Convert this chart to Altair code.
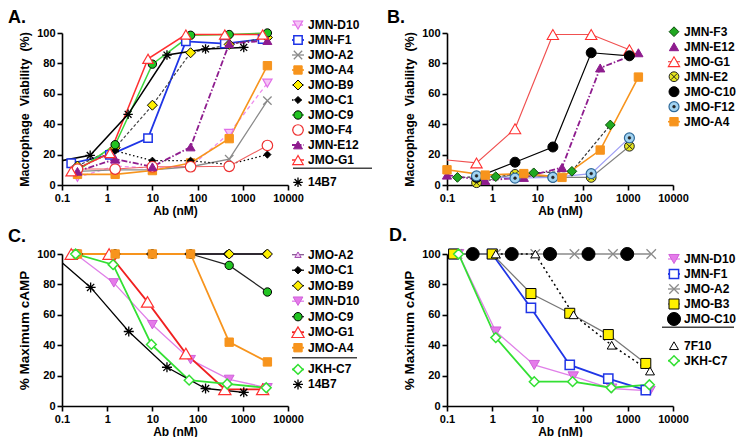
import altair as alt
import pandas as pd

FONT = "Liberation Sans"
XTICKS = [0.1, 1, 10, 100, 1000, 10000]
YTICKS = [0, 20, 40, 60, 80, 100]
PW, PH = 226, 152

# ---------------- Panel A : macrophage viability ----------------
A_XS = [0.22, 1.5, 10, 70, 500, 3500]
A_XF = [0.16, 1.15, 8, 55, 400, 2750]
A_X14 = [0.06, 0.42, 2.9, 21, 150, 1050]
A_X = {"JMN-D10": A_XS, "JMN-F1": A_XF, "JMO-A2": A_XS, "JMO-A4": A_XS,
       "JMO-B9": A_XS, "JMO-C1": A_XS, "JMO-C9": A_XS, "JMO-F4": A_XS,
       "JMN-E12": A_XS, "JMO-G1": A_XF, "14B7": A_X14}
A_Y = {
    "JMN-D10": [5, 12.5, 11, 12, 34, 67],
    "JMN-F1": [14.3, 19.8, 30.8, 94.5, 93, 96],
    "JMO-A2": [9, 10, 10, 12, 17, 55.5],
    "JMO-A4": [7, 7, 9.5, 14.5, 30.5, 78.5],
    "JMO-B9": [12.5, 24.5, 52.5, 87, 92.5, 97],
    "JMO-C1": [11, 22.5, 16, 16, 13.5, 20],
    "JMO-C9": [9.5, 26.5, 79.5, 98.5, 99, 100],
    "JMO-F4": [10.5, 10.5, 12, 12, 12.3, 26],
    "JMN-E12": [9, 17, 12, 25, 93, 95],
    "JMO-G1": [9, 21, 83, 99, 99, 99],
    "14B7": [14.8, 19.5, 46.5, 85.5, 89.5, 90.5],
}

# ---------------- Panel B : macrophage viability ----------------
B_X1 = [0.1, 0.7, 5, 35, 245, 1715]
B_X2 = [0.45, 3.2, 22, 155, 1085]
B_XG = [0.065, 0.45, 3.2, 22, 155, 1085]
B_XF3 = [0.17, 1.2, 8.3, 58, 410]
B_X = {"JMN-F3": B_XF3, "JMN-E12": B_X1, "JMO-G1": B_XG, "JMN-E2": B_X2,
       "JMO-C10": B_X2, "JMO-F12": B_X2, "JMO-A4": B_X1}
B_Y = {
    "JMN-F3": [5, 5.5, 8, 9, 39.5],
    "JMN-E12": [6.5, 3, 5, 11.5, 77, 87],
    "JMO-G1": [17, 14.5, 37, 99, 99, 89],
    "JMN-E2": [1.5, 7, 5, 5, 25.5],
    "JMO-C10": [5, 15, 25, 87, 85],
    "JMO-F12": [6, 4.5, 5, 7.5, 31],
    "JMO-A4": [10, 6.5, 7.5, 5, 23, 71],
}

# ---------------- Panel C : % maximum cAMP ----------------
C_XS = [0.22, 1.5, 10, 70, 500, 3500]
C_XC1 = [0.19, 1.3, 9, 63, 450, 3200]
C_XG = [0.16, 1.1, 7.8, 55, 400, 2750]
C_XD = [0.2, 1.4, 10, 70, 500, 3500]
C_XK = [0.2, 1.35, 9.5, 65, 450, 3300]
C_X14 = [0.06, 0.43, 3, 21, 150, 1050]
C_X = {"JMO-A2": C_XS, "JMO-C1": C_XC1, "JMO-B9": C_XS, "JMN-D10": C_XD,
       "JMO-C9": C_XS, "JMO-G1": C_XG, "JMO-A4": C_XS, "JKH-C7": C_XK, "14B7": C_X14}
C_Y = {
    "JMO-A2": [100, 100, 100, 100, 100, 100],
    "JMO-C1": [100, 100, 100, 100, 100, 100],
    "JMO-B9": [100, 100, 100, 100, 100, 100],
    "JMN-D10": [100, 81, 53.5, 30.5, 17.5, 12],
    "JMO-C9": [100, 100, 100, 100, 92.5, 75],
    "JMO-G1": [100, 100, 68.5, 34.5, 11, 11],
    "JMO-A4": [100, 100, 100, 100, 42, 29],
    "JKH-C7": [100, 93, 40.5, 17, 14.5, 12],
    "14B7": [100, 78, 49, 25.5, 11.5, 9],
}

# ---------------- Panel D : % maximum cAMP ----------------
D_XD = [0.18, 1.2, 8.5, 62, 440, 3100]
D_XF = [0.14, 1.0, 7.2, 52, 370, 2500]
D_XA = [0.17, 1.2, 9, 66, 470, 3300]
D_XC = [0.37, 2.7, 19, 135, 970]
D_X7 = [1.2, 9, 63, 440, 3100]
D_XK = [0.18, 1.2, 8.5, 60, 430, 3000]
D_X = {"JMN-D10": D_XD, "JMN-F1": D_XF, "JMO-A2": D_XA, "JMO-B3": D_XF,
       "JMO-C10": D_XC, "7F10": D_X7, "JKH-C7": D_XK}
D_Y = {
    "JMN-D10": [100, 49, 27, 19.5, 11.5, 10],
    "JMN-F1": [100, 100, 64.5, 27, 18, 10.5],
    "JMO-A2": [100, 100, 100, 100, 100, 100],
    "JMO-B3": [100, 100, 74, 61, 47, 28],
    "JMO-C10": [100, 100, 100, 100, 100],
    "7F10": [100, 100, 60, 40, 23],
    "JKH-C7": [100, 45, 16, 16, 12, 14],
}

# legend rows (label, row index)
A_LEG = [("JMN-D10", 0), ("JMN-F1", 1), ("JMO-A2", 2), ("JMO-A4", 3), ("JMO-B9", 4),
         ("JMO-C1", 5), ("JMO-C9", 6), ("JMO-F4", 7), ("JMN-E12", 8), ("JMO-G1", 9),
         ("14B7", 10.49)]
B_LEG = [("JMN-F3", 0), ("JMN-E12", 1), ("JMO-G1", 2), ("JMN-E2", 3), ("JMO-C10", 4),
         ("JMO-F12", 5), ("JMO-A4", 6)]
C_LEG = [("JMO-A2", 0), ("JMO-C1", 1), ("JMO-B9", 2), ("JMN-D10", 3), ("JMO-C9", 4),
         ("JMO-G1", 5), ("JMO-A4", 6), ("JKH-C7", 7.4), ("14B7", 8.37)]
D_LEG = [("JMN-D10", 0), ("JMN-F1", 1), ("JMO-A2", 2), ("JMO-B3", 3), ("JMO-C10", 4),
         ("7F10", 5.78), ("JKH-C7", 6.78)]

# ---------------- styles ----------------
CROSS = "M-1,-1L1,1M-1,1L1,-1"
ASTER = "M-1,0L1,0M0,-1L0,1M-0.72,-0.72L0.72,0.72M-0.72,0.72L0.72,-0.72"
XIN = "M-0.62,-0.62L0.62,0.62M-0.62,0.62L0.62,-0.62"
T = "transparent"
ORANGE = "#F7941D"
RED = "#FF3030"
BLUE = "#1F35E6"
VIOLET = "#E070E8"
PURPLE = "#8E1C8E"
LGREEN = "#33E033"

S_A = {
    "JMN-D10": dict(shape="triangle-down", size=85, fill="#F6C4F6", stroke=VIOLET, sw=1.2, line="#EE8AEE", lw=1.3, dash=[4, 3]),
    "JMN-F1": dict(shape="square", size=70, fill="white", stroke=BLUE, sw=1.5, line=BLUE, lw=1.8),
    "JMO-A2": dict(shape=CROSS, size=70, fill=T, stroke="#8A8A8A", sw=1.3, line="#8A8A8A", lw=1.3),
    "JMO-A4": dict(shape="square", size=70, fill=ORANGE, stroke=ORANGE, sw=1, line=ORANGE, lw=1.6),
    "JMO-B9": dict(shape="diamond", size=100, fill="#FFF000", stroke="black", sw=1, line="#444444", lw=1.2, dash=[3, 2]),
    "JMO-C1": dict(shape="diamond", size=50, fill="black", stroke="black", sw=1, line="black", lw=1.3, dash=[1.5, 2.5]),
    "JMO-C9": dict(shape="circle", size=70, fill="#22C422", stroke="black", sw=1, line="#3BD63B", lw=1.5),
    "JMO-F4": dict(shape="circle", size=110, fill="white", stroke="#EE3030", sw=1.2, line="#F06060", lw=1.1),
    "JMN-E12": dict(shape="triangle-up", size=80, fill=PURPLE, stroke=PURPLE, sw=1, line=PURPLE, lw=1.8, dash=[6, 2, 1.5, 2]),
    "JMO-G1": dict(shape="triangle-up", size=110, fill="white", stroke=RED, sw=1.2, line=RED, lw=1.5),
    "14B7": dict(shape=ASTER, size=90, fill=T, stroke="black", sw=1.3, line="black", lw=1.5, legline=False),
}
S_B = {
    "JMN-F3": dict(shape="diamond", size=95, fill="#21A821", stroke="#0B4D0B", sw=1, line="#333333", lw=1.2, dash=[3, 2], legline=False),
    "JMN-E12": dict(shape="triangle-up", size=85, fill=PURPLE, stroke=PURPLE, sw=1, line=PURPLE, lw=1.8, dash=[6, 2, 1.5, 2], legline=False),
    "JMO-G1": dict(shape="triangle-up", size=130, fill="white", stroke=RED, sw=1.1, line="#F05050", lw=1.2),
    "JMN-E2": dict(shape="circle", size=95, fill="#E6E61E", stroke="#222222", sw=1, line="#808080", lw=1.2, legline=False,
                   over=[dict(shape=XIN, size=95, fill=T, stroke="#222222", sw=1)]),
    "JMO-C10": dict(shape="circle", size=100, fill="black", stroke="black", sw=1, line="black", lw=1.2, legline=False),
    "JMO-F12": dict(shape="circle", size=100, fill="#A3D4F2", stroke="#2F6A9A", sw=1.2, line="#9F9FF5", lw=1.3, legline=False,
                    over=[dict(shape="circle", size=8, fill="#222222", stroke="#222222", sw=0.5)]),
    "JMO-A4": dict(shape="square", size=70, fill=ORANGE, stroke=ORANGE, sw=1, line=ORANGE, lw=1.6),
}
S_C = {
    "JMO-A2": dict(shape="triangle-up", size=40, fill="#F0C8F4", stroke="#A34AB0", sw=1, line="#7D4E8A", lw=1.2),
    "JMO-C1": dict(shape="diamond", size=55, fill="black", stroke="black", sw=1, line="black", lw=1.2),
    "JMO-B9": dict(shape="diamond", size=100, fill="#FFF000", stroke="black", sw=1, line="black", lw=1.2),
    "JMN-D10": dict(shape="triangle-down", size=95, fill="#E57BEA", stroke="#D060DA", sw=1, line="#E080E8", lw=1.3),
    "JMO-C9": dict(shape="circle", size=70, fill="#22C422", stroke="black", sw=1, line="#222222", lw=1.2),
    "JMO-G1": dict(shape="triangle-up", size=150, fill="white", stroke=RED, sw=1.2, line="#F02020", lw=1.8),
    "JMO-A4": dict(shape="square", size=70, fill=ORANGE, stroke=ORANGE, sw=1, line=ORANGE, lw=1.8),
    "JKH-C7": dict(shape="diamond", size=95, fill="white", stroke=LGREEN, sw=1.5, line=LGREEN, lw=1.8),
    "14B7": dict(shape=ASTER, size=100, fill=T, stroke="black", sw=1.3, line="black", lw=1.3, legline=False),
}
S_D = {
    "JMN-D10": dict(shape="triangle-down", size=110, fill="#E57BEA", stroke="#D060DA", sw=1, line="#E080E8", lw=1.3),
    "JMN-F1": dict(shape="square", size=85, fill="white", stroke=BLUE, sw=1.5, line=BLUE, lw=1.8),
    "JMO-A2": dict(shape=CROSS, size=90, fill=T, stroke="#8A8A8A", sw=1.3, line="#8A8A8A", lw=1.3),
    "JMO-B3": dict(shape="square", size=100, fill="#FFF000", stroke="black", sw=1, line="#777777", lw=1.3),
    "JMO-C10": dict(shape="circle", size=170, fill="black", stroke="black", sw=1),
    "7F10": dict(shape="triangle-up", size=80, fill="white", stroke="black", sw=1, line="black", lw=1.5, dash=[2, 3], legline=False),
    "JKH-C7": dict(shape="diamond", size=95, fill="white", stroke=LGREEN, sw=1.5, line=LGREEN, lw=1.8),
}


def xenc():
    return alt.X("x:Q", scale=alt.Scale(type="log", domain=[0.1, 10000], nice=False),
                 axis=alt.Axis(values=XTICKS, format="~g", title="Ab (nM)", labelFlush=False,
                               labelOverlap=False, grid=False, titleFontSize=12, titlePadding=2))


def yenc(title, tsize):
    return alt.Y("y:Q", scale=alt.Scale(domain=[0, 100], nice=False),
                 axis=alt.Axis(values=YTICKS, title=title, grid=False, labelOverlap=False,
                               titleFontSize=tsize, titlePadding=5))


def pkw(st):
    return dict(shape=st["shape"], size=st["size"], filled=True, opacity=1,
                fill=st.get("fill", T), stroke=st["stroke"], strokeWidth=st.get("sw", 1.2))


def lkw(st):
    kw = dict(color=st["line"], strokeWidth=st.get("lw", 1.4))
    if st.get("dash"):
        kw["strokeDash"] = st["dash"]
    return kw


def panel(xd, yd, styles, ytitle, tsize, letter, dx):
    lines, pts = [], []
    for name, st in styles.items():
        df = pd.DataFrame({"x": xd[name], "y": yd[name]})
        base = alt.Chart(df)
        enc = dict(x=xenc(), y=yenc(ytitle, tsize))
        if st.get("line"):
            kw = lkw(st)
            if min(xd[name]) < 0.1:
                kw["clip"] = True
            lines.append(base.mark_line(**kw).encode(**enc))
        pb = base.transform_filter("datum.x >= 0.1")
        pts.append(pb.mark_point(**pkw(st)).encode(**enc))
        for ov in st.get("over", []):
            pts.append(pb.mark_point(**pkw(ov)).encode(**enc))
    return alt.layer(*lines, *pts).properties(
        width=PW, height=PH,
        title=alt.TitleParams(letter, anchor="start", frame="group", dx=dx, fontSize=18,
                              font=FONT, fontWeight="bold", offset=0, color="black"))


def legend(entries, styles, step, first_off, mx, tx, width, sep=None):
    d0 = -first_off / step
    d1 = d0 + PH / step
    Y = alt.Y("row:Q", scale=alt.Scale(domain=[d0, d1], reverse=True, nice=False, zero=False), axis=None)
    layers = []
    for name, row in entries:
        st = styles[name]
        base = alt.Chart(pd.DataFrame({"row": [row], "label": [name]}))
        if st.get("line") and st.get("legline", True):
            layers.append(base.mark_rule(**lkw(st)).encode(
                x=alt.value(mx - 6), x2=alt.value(mx + 6), y=Y))
        layers.append(base.mark_point(**pkw(st)).encode(x=alt.value(mx), y=Y))
        for ov in st.get("over", []):
            layers.append(base.mark_point(**pkw(ov)).encode(x=alt.value(mx), y=Y))
        layers.append(base.mark_text(align="left", baseline="middle", font=FONT, fontSize=12,
                                     fontWeight="bold", color="black").encode(
            x=alt.value(tx), y=Y, text="label:N"))
    if sep is not None:
        row, s0, s1 = sep
        layers.append(alt.Chart(pd.DataFrame({"row": [row]})).mark_rule(
            color="#444444", strokeWidth=1.5).encode(x=alt.value(s0), x2=alt.value(s1), y=Y))
    return alt.layer(*layers).properties(width=width, height=PH)


VIAB = "Macrophage\u00a0 Viability\u00a0 (%)"
CAMP = "% Maximum cAMP"

pA = panel(A_X, A_Y, S_A, VIAB, 12.5, "A.", -54)
pB = panel(B_X, B_Y, S_B, VIAB, 12.5, "B.", -60)
pC = panel(C_X, C_Y, S_C, CAMP, 13.5, "C.", -54)
pD = panel(D_X, D_Y, S_D, CAMP, 13.5, "D.", -58)

lA = legend(A_LEG, S_A, 15, -8, 7, 17, 153, sep=(9.55, 2, 81))
lB = legend(B_LEG, S_B, 15, -1.3, -2, 8, 55)
lC = legend(C_LEG, S_C, 15.5, 0.7, 7, 17, 153, sep=(6.65, 1, 66))
lD = legend(D_LEG, S_D, 15, 5, -2, 8, 55, sep=(4.55, -14, 58))

chart = alt.concat(pA, lA, pB, lB, pC, lC, pD, lD, columns=4,
                   spacing={"row": 69, "column": 3}, bounds="flush").properties(
    padding=0
).configure_view(stroke=None).configure_axis(
    domainColor="black", domainWidth=1.6, tickColor="black", tickWidth=1.6, tickSize=5,
    labelFont=FONT, labelFontSize=11, labelFontWeight="bold", labelColor="black", labelPadding=2,
    titleFont=FONT, titleFontWeight="bold", titleColor="black",
    grid=False
)

chart.save("out.html", embed_options={"renderer": "svg", "actions": False})
